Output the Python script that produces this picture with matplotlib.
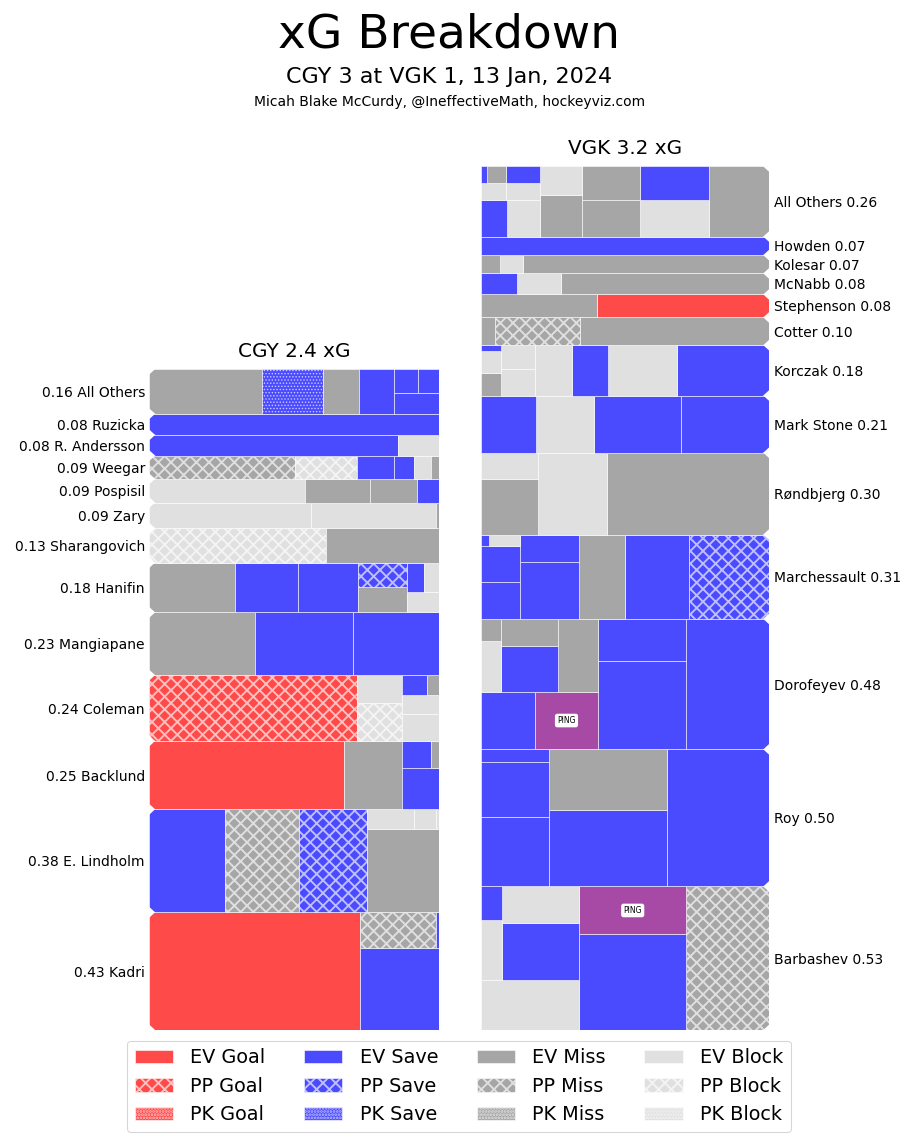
import matplotlib
matplotlib.use("Agg")
import matplotlib.pyplot as plt
from matplotlib.patches import Rectangle, Polygon, Patch
from matplotlib.transforms import blended_transform_factory, offset_copy

# ---------------- data ----------------
cgy_team = "CGY"
vgk_team = "VGK"

cgy_names = ["All Others", "Ruzicka", "R. Andersson", "Weegar", "Pospisil", "Zary",
             "Sharangovich", "Hanifin", "Mangiapane", "Coleman", "Backlund",
             "E. Lindholm", "Kadri"]
cgy_xg = [
    [0.0643, 0.0347, 0.0205, 0.0199, 0.0118, 0.0073, 0.0063],
    [0.0780],
    [0.0653, 0.0108],
    [0.0432, 0.0183, 0.0111, 0.0058, 0.0049, 0.0025],
    [0.0469, 0.0196, 0.0143, 0.0065],
    [0.0528, 0.0405, 0.0011],
    [0.0772, 0.0496],
    [0.0543, 0.0398, 0.0379, 0.0158, 0.0152, 0.0085, 0.0066, 0.0055],
    [0.0846, 0.0782, 0.0684],
    [0.1744, 0.0211, 0.0159, 0.0127, 0.0092, 0.0065, 0.0030],
    [0.1692, 0.0501, 0.0195, 0.0102, 0.0028],
    [0.0985, 0.0981, 0.0891, 0.0763, 0.0116, 0.0054, 0.0007],
    [0.3155, 0.0821, 0.0350, 0.0012],
]
cgy_kind = [
    ["EV Miss", "PK Save", "EV Miss", "EV Save", "EV Save", "EV Save", "EV Save"],
    ["EV Save"],
    ["EV Save", "EV Block"],
    ["PP Miss", "PP Block", "EV Save", "EV Save", "EV Block", "EV Miss"],
    ["EV Block", "EV Miss", "EV Miss", "EV Save"],
    ["EV Block", "EV Block", "EV Miss"],
    ["PP Block", "EV Miss"],
    ["EV Miss", "EV Save", "EV Save", "EV Miss", "PP Save", "EV Block", "EV Save", "EV Block"],
    ["EV Miss", "EV Save", "EV Save"],
    ["PP Goal", "PP Block", "EV Block", "EV Block", "EV Block", "EV Save", "EV Miss"],
    ["EV Goal", "EV Miss", "EV Save", "EV Save", "EV Miss"],
    ["EV Save", "PP Miss", "PP Save", "EV Miss", "EV Block", "EV Block", "EV Block"],
    ["EV Goal", "EV Save", "PP Miss", "EV Save"],
]

vgk_names = ["All Others", "Howden", "Kolesar", "McNabb", "Stephenson", "Cotter",
             "Korczak", "Mark Stone", "Røndbjerg", "Marchessault", "Dorofeyev",
             "Roy", "Barbashev"]
vgk_xg = [
    [0.0537, 0.0316, 0.0293, 0.0266, 0.0251, 0.0224, 0.0153, 0.0152, 0.0123,
     0.0074, 0.0072, 0.0054, 0.0040, 0.0014],
    [0.0680],
    [0.0572, 0.0054, 0.0045],
    [0.0555, 0.0118, 0.0097],
    [0.0502, 0.0341],
    [0.0667, 0.0297, 0.0052],
    [0.0591, 0.0438, 0.0234, 0.0233, 0.0118, 0.0102, 0.0059, 0.0054, 0.0016],
    [0.0640, 0.0632, 0.0423, 0.0401],
    [0.1687, 0.0711, 0.0408, 0.0191],
    [0.0855, 0.0693, 0.0493, 0.0426, 0.0208, 0.0182, 0.0181, 0.0043, 0.0012],
    [0.1381, 0.0985, 0.0474, 0.0457, 0.0400, 0.0364, 0.0333, 0.0200, 0.0128, 0.0057],
    [0.1783, 0.1135, 0.0911, 0.0602, 0.0480, 0.0113],
    [0.1510, 0.1300, 0.0653, 0.0630, 0.0559, 0.0361, 0.0158, 0.0089],
]
vgk_kind = [
    ["EV Miss", "EV Block", "EV Save", "EV Miss", "EV Miss", "EV Miss", "EV Block",
     "EV Block", "EV Save", "EV Block", "EV Save", "EV Block", "EV Miss", "EV Save"],
    ["EV Save"],
    ["EV Miss", "EV Block", "EV Miss"],
    ["EV Miss", "EV Block", "EV Save"],
    ["EV Goal", "EV Miss"],
    ["EV Miss", "PP Miss", "EV Miss"],
    ["EV Save", "EV Block", "EV Save", "EV Block", "EV Block", "EV Block", "EV Miss",
     "EV Block", "EV Save"],
    ["EV Save", "EV Save", "EV Block", "EV Save"],
    ["EV Miss", "EV Block", "EV Miss", "EV Block"],
    ["PP Save", "EV Save", "EV Miss", "EV Save", "EV Save", "EV Save", "EV Save",
     "EV Block", "EV Save"],
    ["EV Save", "EV Save", "EV Save", "PING", "EV Save", "EV Miss", "EV Save",
     "EV Miss", "EV Block", "EV Miss"],
    ["EV Save", "EV Save", "EV Miss", "EV Save", "EV Save", "EV Save"],
    ["PP Miss", "EV Save", "PING", "EV Block", "EV Save", "EV Block", "EV Block", "EV Save"],
]

legend_states = ["EV", "PP", "PK"]
legend_results = ["Goal", "Save", "Miss", "Block"]

# ---------------- styles ----------------
result_colors = {"Goal": "#ff4a4a", "Save": "#4a4aff", "Miss": "#a6a6a6",
                 "Block": "#e0e0e0", "PING": "#a64aa6"}
state_hatch = {"EV": None, "PP": "xx", "PK": "...."}
state_hatch_lw = {"EV": 1.8, "PP": 1.8, "PK": 0.9}
EDGE = (1, 1, 1, 0.65)

DPI = 76
W_PX, H_PX = 911, 1142
BOTTOM_PX = 1030
CENTER_X = 449.5


def fs(px):
    return px * 72.0 / DPI


plt.rcParams["hatch.linewidth"] = 1.8
plt.rcParams["font.family"] = ["DejaVu Sans"]


def make_patch(cls, *args, state="EV", **kw):
    with plt.rc_context({"hatch.linewidth": state_hatch_lw[state]}):
        p = cls(*args, **kw)
    if hasattr(p, "set_hatch_linewidth"):
        p.set_hatch_linewidth(state_hatch_lw[state])
    return p


# ---------------- squarify ----------------
def _layoutrow(sizes, x, y, dx, dy):
    width = sum(sizes) / dy
    out = []
    for s in sizes:
        out.append((x, y, width, s / width))
        y += s / width
    return out


def _layoutcol(sizes, x, y, dx, dy):
    height = sum(sizes) / dx
    out = []
    for s in sizes:
        out.append((x, y, s / height, height))
        x += s / height
    return out


def _layout(sizes, x, y, dx, dy):
    return _layoutrow(sizes, x, y, dx, dy) if dx >= dy else _layoutcol(sizes, x, y, dx, dy)


def _leftover(sizes, x, y, dx, dy):
    if dx >= dy:
        w = sum(sizes) / dy
        return x + w, y, dx - w, dy
    h = sum(sizes) / dx
    return x, y + h, dx, dy - h


def _worst(sizes, x, y, dx, dy):
    return max(max(r[2] / r[3], r[3] / r[2]) for r in _layout(sizes, x, y, dx, dy))


def squarify(sizes, x, y, dx, dy):
    if len(sizes) == 0:
        return []
    if len(sizes) == 1:
        return _layout(sizes, x, y, dx, dy)
    i = 1
    while i < len(sizes) and _worst(sizes[:i], x, y, dx, dy) >= _worst(sizes[:i + 1], x, y, dx, dy):
        i += 1
    cur, rem = sizes[:i], sizes[i:]
    lx, ly, ldx, ldy = _leftover(cur, x, y, dx, dy)
    return _layout(cur, x, y, dx, dy) + squarify(rem, lx, ly, ldx, ldy)


# ---------------- figure ----------------
fig = plt.figure(figsize=(W_PX / DPI, H_PX / DPI), dpi=DPI)

fig.text(CENTER_X / W_PX, 1 - 47 / H_PX, "xG Breakdown", ha="center", va="baseline",
         fontsize=fs(47.0))
fig.text(CENTER_X / W_PX, 1 - 83 / H_PX, "CGY 3 at VGK 1, 13 Jan, 2024", ha="center",
         va="baseline", fontsize=fs(22.2))
fig.text(CENTER_X / W_PX, 1 - 106 / H_PX, "Micah Blake McCurdy, @IneffectiveMath, hockeyviz.com",
         ha="center", va="baseline", fontsize=fs(13.9))


def draw_panel(team, names, xgs, kinds, left_px, right_px, side, px_per_xg):
    totals = [sum(v) for v in xgs]
    total = sum(totals)
    h_px = total * px_per_xg
    w_px = right_px - left_px
    ax = fig.add_axes([left_px / W_PX, (H_PX - BOTTOM_PX) / H_PX, w_px / W_PX, h_px / H_PX])
    ax.set_ylim(0, total)
    if side == "left":
        ax.set_xlim(0, 1)
    else:
        ax.set_xlim(1, 0)
    ax.axis("off")
    cx = 6.0 / w_px
    cy = 6.0 / px_per_xg
    e = 0.004
    trans = blended_transform_factory(fig.transFigure, ax.transData)
    trans = offset_copy(trans, fig=fig, x=0, y=-1.5, units="dots")
    y0 = 0.0
    for name, vals, kd, tot in reversed(list(zip(names, xgs, kinds, totals))):
        order = sorted(range(len(vals)), key=lambda k: -vals[k])
        sizes = [vals[k] for k in order]
        rects = squarify(sizes, 0.0, y0, 1.0, tot)
        for k, (rx, ry, rw, rh) in zip(order, rects):
            kind = kd[k]
            if kind == "PING":
                fc, hatch, st = result_colors["PING"], None, "EV"
            else:
                st, res = kind.split()
                fc, hatch = result_colors[res], state_hatch[st]
            ax.add_patch(make_patch(Rectangle, (rx, ry), rw, rh, state=st, facecolor=fc,
                                    edgecolor=EDGE, linewidth=0.8, hatch=hatch, zorder=2))
            if kind == "PING":
                ax.text(rx + rw / 2, ry + rh / 2, "PING", ha="center", va="center",
                        fontsize=fs(7.7), zorder=5,
                        bbox=dict(boxstyle="round,pad=0.3", fc="white", ec="none"))
        y1 = y0 + tot
        ax.add_patch(Polygon([(-e, y0 - 0.001), (cx, y0 - 0.001), (-e, y0 + cy + e * 0.3)],
                             closed=True, facecolor="white", edgecolor="none", zorder=4,
                             clip_on=False))
        ax.add_patch(Polygon([(-e, y1 + 0.001), (cx, y1 + 0.001), (-e, y1 - cy - e * 0.3)],
                             closed=True, facecolor="white", edgecolor="none", zorder=4,
                             clip_on=False))
        ymid = (y0 + y1) / 2
        if side == "left":
            ax.text((left_px - 4.5) / W_PX, ymid, f"{tot:.2f} {name}", transform=trans,
                    ha="right", va="center", fontsize=fs(13.9))
        else:
            ax.text((right_px + 5) / W_PX, ymid, f"{name} {tot:.2f}", transform=trans,
                    ha="left", va="center", fontsize=fs(13.9))
        y0 = y1
    top_px = BOTTOM_PX - h_px
    fig.text((left_px + right_px) / 2 / W_PX, 1 - (top_px - 12) / H_PX,
             f"{team} {total:.1f} xG", ha="center", va="baseline", fontsize=fs(20))
    return ax


draw_panel(cgy_team, cgy_names, cgy_xg, cgy_kind, 149.4, 439.0, "left", 271.3)
draw_panel(vgk_team, vgk_names, vgk_xg, vgk_kind, 480.7, 769.0, "right", 272.9)

handles, labels = [], []
for res in legend_results:
    for st in legend_states:
        handles.append(make_patch(Patch, state=st, facecolor=result_colors[res],
                                  edgecolor=EDGE, hatch=state_hatch[st], linewidth=0.8))
        labels.append(f"{st} {res}")
fig.legend(handles, labels, loc="upper center", bbox_to_anchor=(459 / W_PX, 1 - 1031 / H_PX),
           ncol=4, fontsize=fs(19.2), labelspacing=0.5, handletextpad=0.9,
           columnspacing=2.0, handlelength=2.0, handleheight=0.7, borderpad=0.4)

fig.savefig("out.png", dpi=DPI)
